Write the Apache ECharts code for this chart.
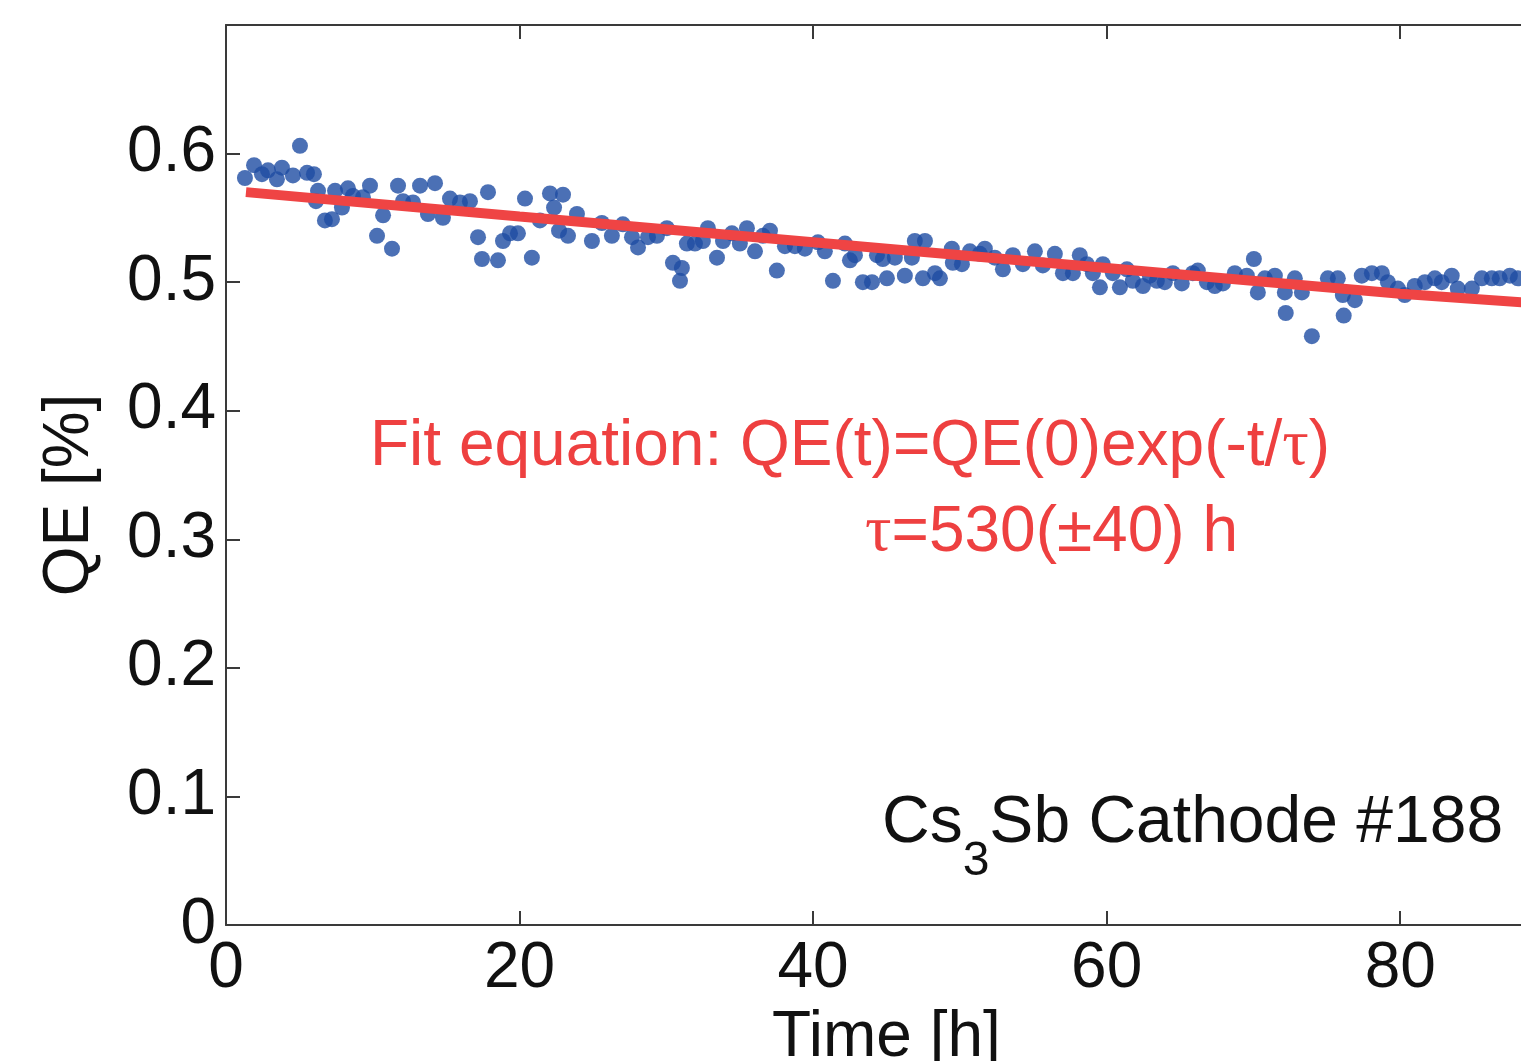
<!DOCTYPE html>
<html>
<head>
<meta charset="utf-8">
<script src="https://cdn.jsdelivr.net/npm/echarts@6/dist/echarts.min.js"></script>
<style>html,body{margin:0;padding:0;background:#fff;}#c{width:1521px;height:1061px;}</style>
</head>
<body>
<div id="c"></div>
<script>
// Measured time points [h]
const timeH = [1.29,1.91,2.45,2.86,3.47,3.81,4.56,5.04,5.52,5.99,6.13,6.27,6.74,7.22,7.43,7.90,8.31,8.65,9.33,9.81,
10.29,10.70,11.31,11.72,12.06,12.74,13.22,13.76,14.24,14.78,15.26,15.94,16.62,17.17,17.44,17.85,18.53,18.87,19.35,19.89,
20.37,20.84,21.39,22.07,22.35,22.69,22.96,23.30,23.91,24.93,25.61,26.29,27.04,27.66,28.07,28.75,29.36,30.04,30.45,30.93,
31.06,31.40,31.95,32.49,32.83,33.45,33.86,34.47,35.01,35.49,36.04,36.58,37.06,37.53,38.08,38.76,39.44,40.33,40.80,41.35,
42.17,42.51,42.85,43.39,44.01,44.35,44.75,45.03,45.57,46.25,46.73,46.93,47.48,47.62,48.30,48.64,49.45,49.52,50.14,50.68,
51.36,51.70,52.38,52.93,53.61,54.29,55.11,55.65,56.47,57.02,57.70,58.17,58.65,59.06,59.54,59.74,60.42,60.90,61.38,61.78,
62.47,62.94,63.42,63.96,64.51,65.12,65.87,66.21,66.83,67.37,67.92,68.73,69.55,70.03,70.30,70.78,71.46,72.14,72.20,72.82,
73.30,73.98,75.07,75.75,76.09,76.15,76.91,77.38,78.07,78.75,79.16,79.84,80.31,80.99,81.68,82.36,82.83,83.51,83.92,84.88,
85.56,86.24,86.78,87.47,88.01];
// Measured QE [%]
const qeValues = [0.581,0.591,0.584,0.587,0.580,0.589,0.583,0.606,0.585,0.584,0.563,0.571,0.548,0.549,0.571,0.558,0.573,0.567,0.566,0.575,
0.536,0.552,0.526,0.575,0.563,0.562,0.575,0.553,0.577,0.550,0.565,0.562,0.563,0.535,0.518,0.570,0.517,0.532,0.538,0.538,
0.565,0.519,0.548,0.569,0.558,0.540,0.568,0.536,0.553,0.532,0.546,0.536,0.545,0.535,0.527,0.535,0.536,0.542,0.515,0.501,
0.511,0.530,0.530,0.532,0.542,0.519,0.532,0.538,0.530,0.542,0.524,0.536,0.540,0.509,0.528,0.528,0.526,0.531,0.524,0.501,
0.530,0.517,0.521,0.500,0.500,0.521,0.518,0.503,0.519,0.505,0.519,0.532,0.503,0.532,0.507,0.503,0.526,0.515,0.514,0.524,
0.522,0.526,0.519,0.510,0.521,0.514,0.524,0.513,0.522,0.507,0.507,0.521,0.514,0.507,0.496,0.514,0.507,0.496,0.510,0.501,
0.497,0.505,0.501,0.500,0.507,0.499,0.507,0.509,0.500,0.497,0.499,0.507,0.505,0.518,0.492,0.503,0.505,0.492,0.476,0.503,
0.492,0.458,0.503,0.503,0.490,0.474,0.486,0.505,0.507,0.507,0.500,0.495,0.490,0.497,0.500,0.503,0.500,0.505,0.495,0.495,
0.503,0.503,0.503,0.505,0.503];
// Fit curve
const fitTime = [1.36, 20, 40, 60, 80, 90];
const fitQE = [0.570, 0.551, 0.531, 0.511, 0.491, 0.483];
// Axis ticks
const xTicks = [0, 20, 40, 60, 80];
const yTicks = [0, 0.1, 0.2, 0.3, 0.4, 0.5, 0.6];

const FONT = 'Liberation Sans, Arial, sans-serif';
const scatterData = timeH.map((t, i) => [t, qeValues[i]]);
const fitData = fitTime.map((t, i) => [t, fitQE[i]]);
const axisColor = '#3a3a3a';

const chart = echarts.init(document.getElementById('c'), null, {renderer: 'canvas'});
chart.setOption({
  backgroundColor: '#ffffff',
  animation: false,
  grid: {left: 226, top: 25, width: 1321, height: 900, containLabel: false, outerBoundsMode: 'none'},
  xAxis: [{
    type: 'value', min: 0, max: 90, interval: 20, position: 'bottom',
    name: 'Time [h]', nameLocation: 'middle', nameGap: 72,
    nameTextStyle: {fontFamily: FONT, fontSize: 64, color: '#111'},
    axisLine: {show: true, onZero: false, lineStyle: {color: axisColor, width: 2}},
    axisTick: {show: true, inside: true, length: 14, lineStyle: {color: axisColor, width: 2}},
    axisLabel: {fontFamily: FONT, fontSize: 64, color: '#111', margin: 12,
      formatter: v => xTicks.indexOf(v) >= 0 ? String(v) : ''},
    splitLine: {show: false}
  }, {
    type: 'value', min: 0, max: 90, interval: 20, position: 'top',
    axisLine: {show: true, onZero: false, lineStyle: {color: axisColor, width: 2}},
    axisTick: {show: true, inside: true, length: 14, lineStyle: {color: axisColor, width: 2}},
    axisLabel: {show: false}, splitLine: {show: false}
  }],
  yAxis: [{
    type: 'value', min: 0, max: 0.7, interval: 0.1,
    axisLine: {show: true, onZero: false, lineStyle: {color: axisColor, width: 2}},
    axisTick: {show: true, inside: true, length: 14, lineStyle: {color: axisColor, width: 2}},
    axisLabel: {fontFamily: FONT, fontSize: 64, color: '#111', margin: 10,
      formatter: v => { const r = Math.round(v * 10) / 10; return yTicks.indexOf(r) >= 0 ? String(r) : ''; }},
    splitLine: {show: false}
  }],
  series: [{
    type: 'scatter', xAxisIndex: 0, yAxisIndex: 0, data: scatterData,
    symbol: 'circle', symbolSize: 16,
    itemStyle: {color: '#1e4ca2'}, z: 2, silent: true
  }, {
    type: 'line', xAxisIndex: 0, yAxisIndex: 0, data: fitData,
    showSymbol: false, symbol: 'none', smooth: false,
    lineStyle: {color: '#ef4444', width: 10}, z: 3, silent: true
  }],
  graphic: [{
    type: 'text', x: 70, y: 495, rotation: Math.PI / 2,
    style: {text: 'QE [%]', font: '64px ' + FONT, fill: '#111', align: 'center', verticalAlign: 'middle'}
  }, {
    type: 'text', x: 370, y: 447,
    style: {
      text: '{a|Fit equation: QE(t)=QE(0)exp(-t/}{g|τ}{a|)}',
      align: 'left', verticalAlign: 'middle',
      rich: {
        a: {fontFamily: FONT, fontSize: 64, fill: '#ee4040', lineHeight: 70},
        g: {fontFamily: 'Liberation Serif, serif', fontSize: 66, fill: '#ee4040', lineHeight: 70}
      }
    }
  }, {
    type: 'text', x: 865, y: 533,
    style: {
      text: '{g|τ}{a|=530(±40) h}',
      align: 'left', verticalAlign: 'middle',
      rich: {
        a: {fontFamily: FONT, fontSize: 64, fill: '#ee4040', lineHeight: 70},
        g: {fontFamily: 'Liberation Serif, serif', fontSize: 66, fill: '#ee4040', lineHeight: 70}
      }
    }
  }, {
    type: 'text', x: 882, y: 824,
    style: {
      text: '{a|Cs}{s|3}{a|Sb Cathode #188}',
      align: 'left', verticalAlign: 'middle',
      rich: {
        a: {fontFamily: FONT, fontSize: 66, fill: '#111', lineHeight: 70},
        s: {fontFamily: FONT, fontSize: 48, fill: '#111', lineHeight: 48, padding: [76, 0, 0, 0]}
      }
    }
  }]
});
</script>
</body>
</html>
